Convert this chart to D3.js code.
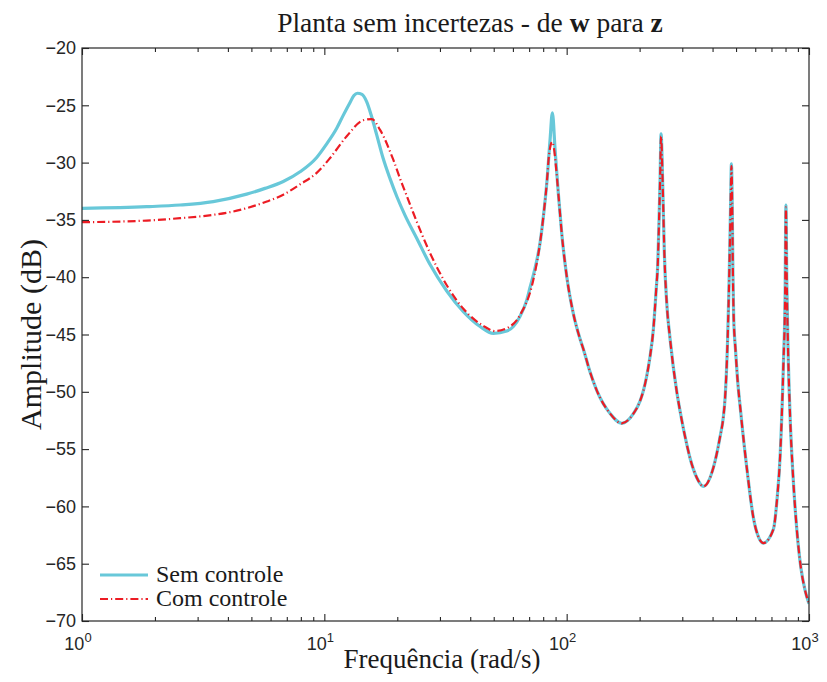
<!DOCTYPE html>
<html>
<head>
<meta charset="utf-8">
<script src="https://cdn.jsdelivr.net/npm/d3@7"></script>
<style>
	body { margin: 0; background: #fff; }
	svg { display: block; }
</style>
</head>
<body>
<svg id="chart"></svg>
<script>
// ------- DATA ------- //

const yTicks = [-70, -65, -60, -55, -50, -45, -40, -35, -30, -25, -20]
const xDecades = [1, 10, 100, 1000]
const xExponents = ['0', '1', '2', '3']

const titleParts = [
	{ text: 'Planta sem incertezas - de ', bold: false },
	{ text: 'w', bold: true },
	{ text: ' para ', bold: false },
	{ text: 'z', bold: true }
]
const xLabel = 'Frequência (rad/s)'
const yLabel = 'Amplitude (dB)'
const seriesNames = ['Sem controle', 'Com controle']

// [frequência rad/s, amplitude dB]
const semControle = [
	[1.00, -34.0], [1.85, -33.85], [2.54, -33.7], [3.48, -33.4], [4.78, -32.75],
	[5.69, -32.25], [6.77, -31.65], [7.94, -30.8], [9.30, -29.55], [10.16, -28.45],
	[11.25, -27.0], [11.95, -25.9], [12.77, -24.75], [13.25, -24.15], [13.69, -23.95],
	[14.30, -24.05], [14.96, -24.7], [15.58, -25.8], [16.46, -27.6], [17.47, -29.6],
	[18.67, -31.4], [19.95, -33.0], [21.53, -34.6], [24.06, -36.6], [27.31, -38.9],
	[32.0, -41.2], [37.47, -43.0], [43.92, -44.3], [49.84, -44.9], [56.6, -44.7],
	[60.26, -44.3], [64.23, -43.4], [68.44, -42.0], [70.6, -40.9], [74.06, -39.2],
	[77.67, -37.0], [80.15, -34.7], [82.78, -31.8], [85.42, -28.0], [87.3, -25.65],
	[89.6, -28.9], [92.4, -32.7], [95.45, -36.2], [100.1, -39.95], [106.6, -43.2],
	[113.6, -45.4], [117.3, -46.3], [125.0, -48.3], [133.2, -49.9], [151.1, -51.9],
	[168.8, -52.75], [188.5, -51.9], [200.9, -50.8], [207.3, -49.9], [214.1, -48.6],
	[220.9, -46.9], [228.0, -44.5], [233.9, -41.2], [237.7, -38.8], [240.6, -35.0],
	[242.9, -31.5], [245.2, -27.5], [249.2, -32.1], [253.0, -37.9], [258.9, -42.3],
	[267.2, -45.4], [284.7, -50.0], [293.8, -51.7], [313.1, -54.6], [323.1, -55.8],
	[344.4, -57.5], [367.1, -58.25], [403.3, -56.6], [429.7, -53.9], [443.5, -52.15],
	[450.6, -50.5], [460.6, -46.0], [466.8, -41.5], [471.1, -37.5], [474.9, -33.5],
	[478.5, -30.1], [482.6, -34.5], [485.2, -39.5], [488.9, -43.5], [497.3, -46.3],
	[507.0, -48.9], [521.6, -51.6], [555.7, -56.9], [589.7, -61.0], [617.0, -62.6],
	[648.3, -63.2], [712.9, -62.0], [738.0, -59.4], [760.1, -55.6], [784.3, -47.5],
	[797.0, -41.5], [803.1, -33.7], [809.9, -40.5], [820.0, -46.5], [835.6, -52.15],
	[859.0, -57.3], [890.6, -62.0], [925.0, -65.3], [963.0, -67.3], [1000, -68.5]
]

const comControle = [
	[1.00, -35.2], [1.85, -35.06], [2.54, -34.85], [3.48, -34.56], [4.49, -34.13],
	[5.09, -33.8], [5.79, -33.4], [6.77, -32.8], [7.94, -31.9], [9.30, -30.9],
	[10.56, -29.6], [12.37, -27.7], [14.49, -26.3], [15.69, -26.2], [16.98, -27.15],
	[19.27, -29.77], [20.87, -31.8], [21.88, -32.9], [23.30, -34.4], [27.31, -37.9],
	[32.0, -40.7], [37.47, -42.75], [45.32, -44.25], [50.64, -44.7], [56.6, -44.45],
	[64.23, -43.3], [72.9, -40.2], [77.67, -37.0], [80.15, -34.7], [82.78, -31.8],
	[84.6, -29.3], [87.1, -28.2], [88.7, -28.8], [90.0, -30.0], [92.4, -32.7],
	[95.45, -36.2], [100.1, -39.95], [106.6, -43.2], [113.6, -45.4], [117.3, -46.3],
	[125.0, -48.3], [133.2, -49.9], [151.1, -51.9], [168.8, -52.75], [188.5, -51.9],
	[200.9, -50.8], [207.3, -49.9], [214.1, -48.6], [220.9, -46.9], [228.0, -44.5],
	[233.9, -41.2], [237.7, -38.8], [240.6, -35.0], [242.9, -31.6], [245.2, -27.7],
	[249.2, -32.1], [253.0, -37.9], [258.9, -42.3], [267.2, -45.4], [284.7, -50.0],
	[293.8, -51.7], [313.1, -54.6], [323.1, -55.8], [344.4, -57.5], [367.1, -58.25],
	[403.3, -56.6], [429.7, -53.9], [443.5, -52.15], [450.6, -50.5], [460.6, -46.0],
	[466.8, -41.5], [471.1, -37.5], [474.9, -33.6], [478.5, -30.3], [482.6, -34.5],
	[485.2, -39.5], [488.9, -43.5], [497.3, -46.3], [507.0, -48.9], [521.6, -51.6],
	[555.7, -56.9], [589.7, -61.0], [617.0, -62.6], [648.3, -63.2], [712.9, -62.0],
	[738.0, -59.4], [760.1, -55.6], [784.3, -47.5], [797.0, -41.5], [803.1, -33.9],
	[809.9, -40.5], [820.0, -46.5], [835.6, -52.15], [859.0, -57.3], [890.6, -62.0],
	[925.0, -65.3], [963.0, -67.3], [1000, -68.5]
]

// ------- LAYOUT ------- //

const width = 827
const height = 682
const margin = { top: 48, right: 18, bottom: 61, left: 82 }
const axisColor = '#262626'
const serif = '"Liberation Serif", "Times New Roman", serif'
const sans = '"Liberation Sans", Arial, sans-serif'
const colors = ['#68c8d9', '#ec1c24']
const dashDot = '8,3,1.2,3'

const svg = d3.select('#chart')
	.attr('width', width)
	.attr('height', height)

const x = d3.scaleLog()
	.domain([1, 1000])
	.range([margin.left, width - margin.right])

const y = d3.scaleLinear()
	.domain([-70, -20])
	.range([height - margin.bottom, margin.top])

const x0 = x.range()[0], x1 = x.range()[1]
const y0 = y.range()[0], y1 = y.range()[1]

// minor log ticks (2..9 of each decade)
const minorTicks = x.ticks().filter(t => !xDecades.includes(t))

// ------- CURVES ------- //

svg.append('clipPath').attr('id', 'plot-clip')
	.append('rect')
	.attr('x', x0).attr('y', y1)
	.attr('width', x1 - x0).attr('height', y0 - y1)

const line = d3.line()
	.x(d => x(d[0]))
	.y(d => y(d[1]))
	.curve(d3.curveMonotoneX)

const plot = svg.append('g').attr('clip-path', 'url(#plot-clip)')

plot.append('path')
	.datum(semControle)
	.attr('d', line)
	.attr('fill', 'none')
	.attr('stroke', colors[0])
	.attr('stroke-width', 3.2)
	.attr('stroke-linejoin', 'round')

plot.append('path')
	.datum(comControle)
	.attr('d', line)
	.attr('fill', 'none')
	.attr('stroke', colors[1])
	.attr('stroke-width', 2.2)
	.attr('stroke-dasharray', dashDot)

// ------- AXES ------- //

const styleAxis = (g) => {
	g.select('.domain').remove()
	g.selectAll('line').attr('stroke', axisColor).attr('stroke-width', 1.1)
	g.selectAll('text')
		.attr('fill', axisColor)
		.style('font-family', sans)
		.style('font-size', '18px')
}

svg.append('g')
	.attr('transform', `translate(${x0},0)`)
	.call(d3.axisLeft(y).tickValues(yTicks).tickSize(-7).tickPadding(6))
	.call(styleAxis)

svg.append('g')
	.attr('transform', `translate(${x1},0)`)
	.call(d3.axisRight(y).tickValues(yTicks).tickSize(-7).tickFormat(''))
	.call(styleAxis)

svg.append('g')
	.attr('transform', `translate(0,${y0})`)
	.call(d3.axisBottom(x).tickValues(xDecades).tickSize(-7).tickFormat(''))
	.call(styleAxis)

svg.append('g')
	.attr('transform', `translate(0,${y0})`)
	.call(d3.axisBottom(x).tickValues(minorTicks).tickSize(-4).tickFormat(''))
	.call(styleAxis)

svg.append('g')
	.attr('transform', `translate(0,${y1})`)
	.call(d3.axisTop(x).tickValues(xDecades).tickSize(-7).tickFormat(''))
	.call(styleAxis)

svg.append('g')
	.attr('transform', `translate(0,${y1})`)
	.call(d3.axisTop(x).tickValues(minorTicks).tickSize(-4).tickFormat(''))
	.call(styleAxis)

// box
svg.append('rect')
	.attr('x', x0).attr('y', y1)
	.attr('width', x1 - x0).attr('height', y0 - y1)
	.attr('fill', 'none')
	.attr('stroke', axisColor)
	.attr('stroke-width', 1.2)

// x tick labels as 10^n
const xl = svg.append('g').selectAll('text')
	.data(xDecades)
	.join('text')
	.attr('x', d => x(d) - 4)
	.attr('y', y0 + 29)
	.attr('text-anchor', 'middle')
	.attr('fill', axisColor)
	.style('font-family', sans)
	.style('font-size', '18px')
xl.append('tspan').text('10')
xl.append('tspan')
	.attr('dy', -8)
	.style('font-size', '13px')
	.text((d, i) => xExponents[i])

// ------- LABELS ------- //

const title = svg.append('text')
	.attr('x', 470)
	.attr('y', 32)
	.attr('text-anchor', 'middle')
	.attr('fill', '#1a1a1a')
	.style('font-family', serif)
	.style('font-size', '27.5px')
title.selectAll('tspan')
	.data(titleParts)
	.join('tspan')
	.style('font-weight', d => d.bold ? 'bold' : 'normal')
	.text(d => d.text)

svg.append('text')
	.attr('x', 442)
	.attr('y', 668)
	.attr('text-anchor', 'middle')
	.attr('fill', '#1a1a1a')
	.style('font-family', serif)
	.style('font-size', '27px')
	.text(xLabel)

svg.append('text')
	.attr('transform', `translate(41,${(y0 + y1) / 2}) rotate(-90)`)
	.attr('text-anchor', 'middle')
	.attr('fill', '#1a1a1a')
	.style('font-family', serif)
	.style('font-size', '30px')
	.text(yLabel)

// ------- LEGEND ------- //

const legend = svg.append('g')
	.selectAll('g')
	.data(seriesNames)
	.join('g')
	.attr('transform', (d, i) => `translate(100,${575 + i * 24})`)

legend.append('line')
	.attr('x1', 0).attr('x2', 48)
	.attr('stroke', (d, i) => colors[i])
	.attr('stroke-width', (d, i) => i ? 2.2 : 3.2)
	.attr('stroke-dasharray', (d, i) => i ? dashDot : null)

legend.append('text')
	.attr('x', 56)
	.attr('y', 7)
	.attr('fill', '#1a1a1a')
	.style('font-family', serif)
	.style('font-size', '24px')
	.text(d => d)
</script>
</body>
</html>
